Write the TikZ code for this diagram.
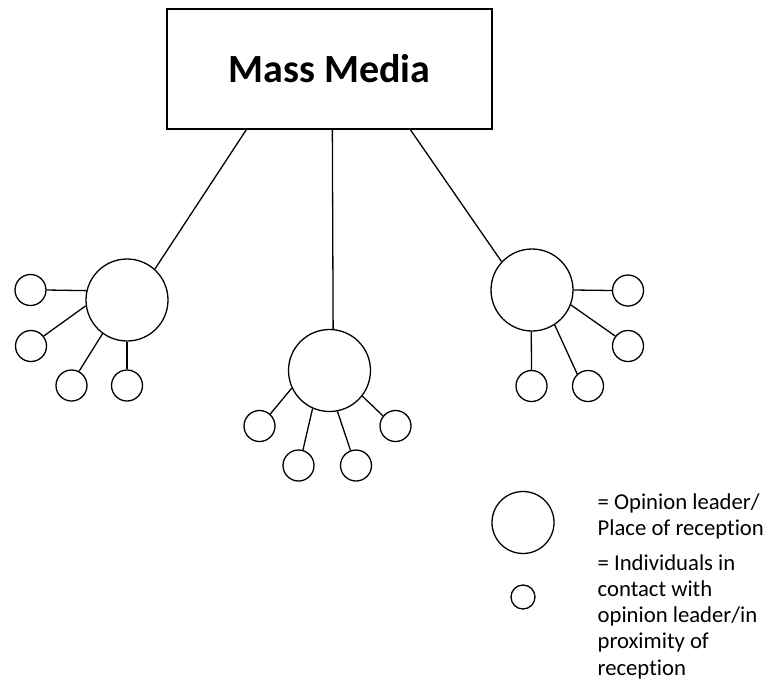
\documentclass[tikz,border=0pt]{standalone}
\usepackage{fontspec}
\setmainfont{Carlito}[Ligatures=NoCommon]
\usetikzlibrary{calc}
\begin{document}
\begin{tikzpicture}[x=1pt,y=-1pt,
  line width=1.3pt,
  leader/.style={circle,draw,inner sep=0pt,minimum size=82pt},
  member/.style={circle,draw,inner sep=0pt,minimum size=31pt},
  legendtext/.style={anchor=base west,inner sep=0pt,
    font=\fontsize{22.7}{26.3}\selectfont}]
\useasboundingbox (0,0) rectangle (766,681);

% source box
\node[draw,minimum width=325pt,minimum height=120pt,inner sep=0pt,
  font=\fontsize{40}{48}\selectfont\bfseries] (media) at (329.5,69) {Mass Media};
\coordinate (tL) at ($(media.south west)+(80,0)$);
\coordinate (tM) at ($(media.south west)+(166,0)$);
\coordinate (tR) at ($(media.south west)+(244,0)$);

% left group
\node[leader] (L) at (127,300) {};
\node[member] (L1) at (30.5,290) {};
\node[member] (L2) at (31,346) {};
\node[member] (L3) at (71.5,385.5) {};
\node[member] (L4) at (127,385.5) {};

% middle group
\node[leader] (M) at (329.5,370.5) {};
\node[member] (M1) at (259.5,426) {};
\node[member] (M2) at (298.5,465.5) {};
\node[member] (M3) at (356,465.5) {};
\node[member] (M4) at (395.5,426) {};

% right group
\node[leader] (R) at (532,290) {};
\node[member] (R1) at (628,290.5) {};
\node[member] (R2) at (628,346) {};
\node[member] (R3) at (531.5,386) {};
\node[member] (R4) at (588,386) {};

% media to opinion leaders
\draw (tL) -- (L.48);
\draw (tM) -- (M.85);
\draw (tR) -- (R.137);

% opinion leaders to individuals
\draw (L.167) -- (L1.0);
\draw (L.188) -- (L2.38);
\draw (L.234) -- (L3.62);
\draw (L.270) -- (L4.90);

\draw (M.205) -- (M1.48);
\draw (M.246) -- (M2.74);
\draw (M.281) -- (M3.110);
\draw (M.322) -- (M4.141);

\draw (R.0) -- (R1.180);
\draw (R.339) -- (R2.142);
\draw (R.269) -- (R3.90);
\draw (R.303) -- (R4.132);

% legend (tabular[t] keeps the first baseline on the anchor)
\node[circle,draw,inner sep=0pt,minimum size=62pt] (kL) at (523,522.5) {};
\node[circle,draw,inner sep=0pt,minimum size=24pt] (kM) at (523,597) {};
\node[legendtext] (kLt) at (597,509)
  {\begin{tabular}[t]{@{}l@{}}= Opinion leader/\\Place of reception\end{tabular}};
\node[legendtext] (kMt) at (597,570)
  {\begin{tabular}[t]{@{}l@{}}= Individuals in\\contact with\\opinion leader/in\\proximity of\\reception\end{tabular}};
\end{tikzpicture}
\end{document}
